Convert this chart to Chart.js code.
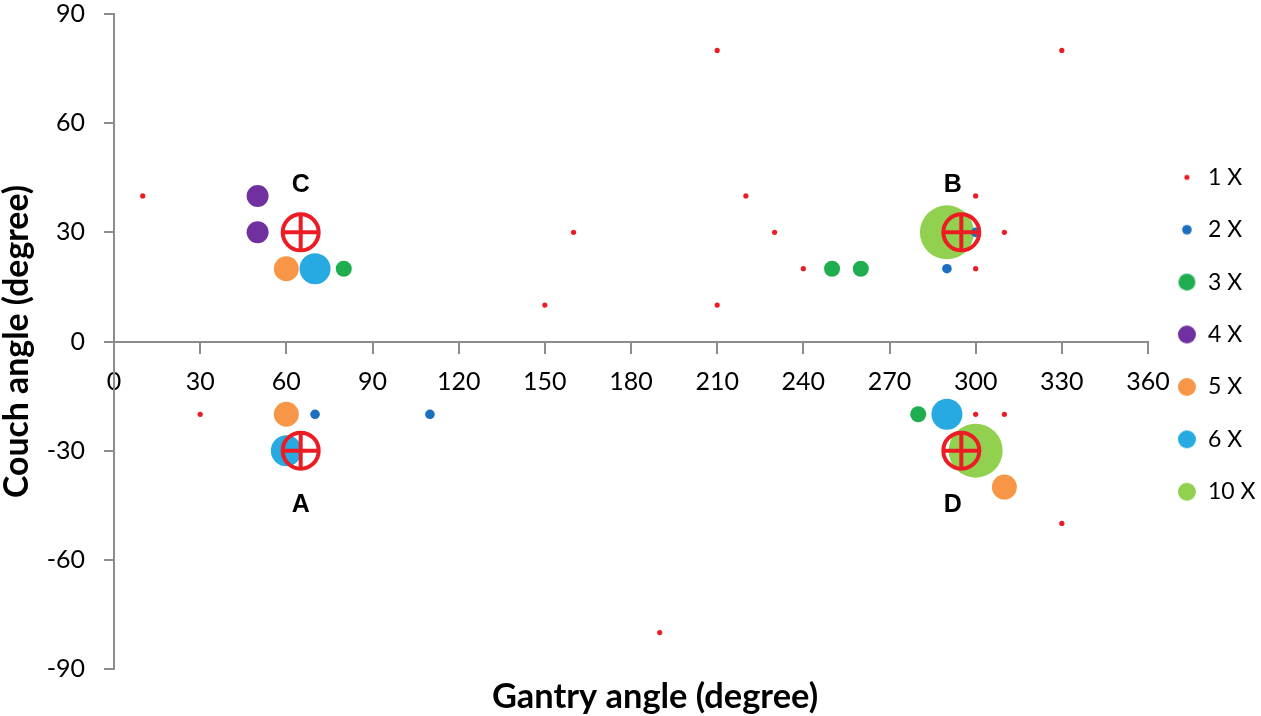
<!DOCTYPE html>
<html>
<head>
<meta charset="utf-8">
<title>Gantry vs couch angle</title>
<script src="https://cdn.jsdelivr.net/npm/chart.js@4/dist/chart.umd.min.js"></script>
<style>
  html, body { margin: 0; padding: 0; background: #fff; }
  #wrap { width: 1261px; height: 716px; position: relative; }
</style>
</head>
<body>
<div id="wrap"><canvas id="angleChart"></canvas></div>
<script>
// Gantry / couch angle pairs for each multiplicity (1X ... 10X)
const gantry1 = [10, 30, 150, 160, 190, 210, 210, 220, 230, 240, 300, 300, 310, 300, 310, 330, 330];
const couch1  = [40, -20, 10, 30, -80, 80, 10, 40, 30, 20, 40, 20, 30, -20, -20, 80, -50];
const gantry2 = [70, 110, 290, 300];
const couch2  = [-20, -20, 20, 30];
const gantry3 = [80, 250, 260, 280];
const couch3  = [20, 20, 20, -20];
const gantry4 = [50, 50];
const couch4  = [40, 30];
const gantry5 = [60, 60, 310];
const couch5  = [20, -20, -40];
const gantry6 = [70, 60, 290];
const couch6  = [20, -30, -20];
const gantry10 = [290, 300];
const couch10  = [30, -30];

// Target (crosshair) positions and their letters
const targetGantry = [65, 295, 65, 295];
const targetCouch  = [-30, 30, 30, -30];
const targetNames  = ['A', 'B', 'C', 'D'];
const nameGantry   = [65, 292, 65, 292];
const nameCouch    = [-45, 43, 43, -45];

const seriesNames = ['1 X', '2 X', '3 X', '4 X', '5 X', '6 X', '10 X'];
const xTicks = [0, 30, 60, 90, 120, 150, 180, 210, 240, 270, 300, 330, 360];
const yTicks = [-90, -60, -30, 0, 30, 60, 90];

const RED = '#ec1c24';
const AXIS_GREY = '#8c8c8c';
const X_TITLE = 'Gantry angle (degree)';
const Y_TITLE = 'Couch angle (degree)';

function toPoints(xs, ys) {
    return xs.map((x, i) => ({ x: x, y: ys[i] }));
}

// pick a bold Lato size that gives the title the same length as the original
function fitSize(text, width) {
    const g = document.createElement('canvas').getContext('2d');
    g.font = 'bold 30px Lato, sans-serif';
    return 30 * width / g.measureText(text).width;
}
const xTitleSize = fitSize(X_TITLE, 326);
const yTitleSize = fitSize(Y_TITLE, 313);

// Small canvas dots for the legend so each entry keeps its own size
function legendDot(color, r) {
    const c = document.createElement('canvas');
    const s = Math.ceil(r * 2) + 2;
    c.width = s;
    c.height = s;
    const g = c.getContext('2d');
    g.fillStyle = color;
    g.beginPath();
    g.arc(s / 2, s / 2, r, 0, Math.PI * 2);
    g.fill();
    return c;
}

const series = [
    { label: seriesNames[0], data: toPoints(gantry1, couch1),   color: RED,       r: 2.6,  lr: 2.6 },
    { label: seriesNames[1], data: toPoints(gantry2, couch2),   color: '#1b6fc0', r: 4.8,  lr: 4.8 },
    { label: seriesNames[2], data: toPoints(gantry3, couch3),   color: '#1eae50', r: 8,    lr: 8.5 },
    { label: seriesNames[3], data: toPoints(gantry4, couch4),   color: '#7030a0', r: 11,   lr: 9 },
    { label: seriesNames[4], data: toPoints(gantry5, couch5),   color: '#f79646', r: 12.5, lr: 9 },
    { label: seriesNames[5], data: toPoints(gantry6, couch6),   color: '#27aae1', r: 15.5, lr: 9 },
    { label: seriesNames[6], data: toPoints(gantry10, couch10), color: '#92d050', r: 27,   lr: 9 }
];

const datasets = [
    {
        label: '',
        data: toPoints(targetGantry, targetCouch),
        pointStyle: 'circle',
        pointRadius: 18,
        borderWidth: 4,
        borderColor: RED,
        backgroundColor: 'rgba(0,0,0,0)'
    },
    {
        label: '',
        data: toPoints(targetGantry, targetCouch),
        pointStyle: 'cross',
        pointRadius: 19,
        borderWidth: 4,
        borderColor: RED,
        backgroundColor: RED
    }
].concat(series.map(s => ({
    label: s.label,
    data: s.data,
    pointStyle: 'circle',
    pointRadius: s.r,
    borderWidth: 0,
    backgroundColor: s.color,
    borderColor: s.color
})));

const legendDots = [null, null].concat(series.map(s => legendDot(s.color, s.lr)));

// Letters A-D next to the targets plus the x axis title
const annotations = {
    id: 'annotations',
    afterDatasetsDraw(chart) {
        const { ctx, scales, chartArea } = chart;
        ctx.save();
        ctx.fillStyle = '#000';
        ctx.textAlign = 'center';
        ctx.textBaseline = 'middle';
        ctx.font = 'bold 25px "Liberation Sans", Arial, sans-serif';
        targetNames.forEach((name, i) => {
            ctx.fillText(name, scales.x.getPixelForValue(nameGantry[i]), scales.y.getPixelForValue(nameCouch[i]));
        });
        ctx.font = 'bold ' + xTitleSize.toFixed(1) + 'px Lato, sans-serif';
        ctx.fillText(X_TITLE, (chartArea.left + chartArea.right) / 2 + 24, 697);
        ctx.restore();
    }
};

// Fixed legend width so the plot area ends where the reference does
const legendWidth = {
    id: 'legendWidth',
    beforeInit(chart) {
        const fit = chart.legend.fit;
        chart.legend.fit = function () {
            fit.call(this);
            this.width = 113;
        };
    }
};

const ctx = document.getElementById('angleChart').getContext('2d');
new Chart(ctx, {
    type: 'scatter',
    data: { datasets: datasets },
    options: {
        responsive: true,
        maintainAspectRatio: false,
        animation: false,
        events: [],
        layout: { autoPadding: false, padding: { top: 0, right: 0, bottom: 47, left: 0 } },
        plugins: {
            tooltip: { enabled: false },
            legend: {
                position: 'right',
                align: 'center',
                labels: {
                    usePointStyle: true,
                    boxWidth: 19,
                    padding: 29.4,
                    color: '#000',
                    font: { family: 'Lato', size: 23 },
                    filter: item => item.text !== '',
                    generateLabels(chart) {
                        const items = Chart.defaults.plugins.legend.labels.generateLabels(chart);
                        items.forEach(item => {
                            if (legendDots[item.datasetIndex]) item.pointStyle = legendDots[item.datasetIndex];
                        });
                        return items;
                    }
                }
            }
        },
        scales: {
            x: {
                type: 'linear',
                position: { y: 0 },
                min: 0,
                max: 360,
                afterBuildTicks: axis => { axis.ticks = xTicks.map(v => ({ value: v })); },
                grid: { drawOnChartArea: false, drawTicks: true, tickLength: 11, color: AXIS_GREY, lineWidth: 2 },
                border: { color: AXIS_GREY, width: 2 },
                ticks: { padding: 14, color: '#000', font: { family: 'Lato', size: 25 } }
            },
            y: {
                type: 'linear',
                position: 'left',
                min: -90,
                max: 90,
                afterBuildTicks: axis => { axis.ticks = yTicks.map(v => ({ value: v })); },
                afterFit: axis => {
                    axis.width = 114;
                    axis.paddingTop = 14;
                    axis.paddingBottom = 0;
                },
                grid: { drawOnChartArea: false, drawTicks: true, tickLength: 10, color: AXIS_GREY, lineWidth: 2 },
                border: { color: AXIS_GREY, width: 2 },
                ticks: { padding: 19, color: '#000', font: { family: 'Lato', size: 25 } },
                title: {
                    display: true,
                    text: Y_TITLE,
                    color: '#000',
                    padding: { top: 0, bottom: 0 },
                    font: { family: 'Lato', size: yTitleSize, weight: 'bold', lineHeight: 1 }
                }
            }
        }
    },
    plugins: [annotations, legendWidth]
});
</script>
</body>
</html>
